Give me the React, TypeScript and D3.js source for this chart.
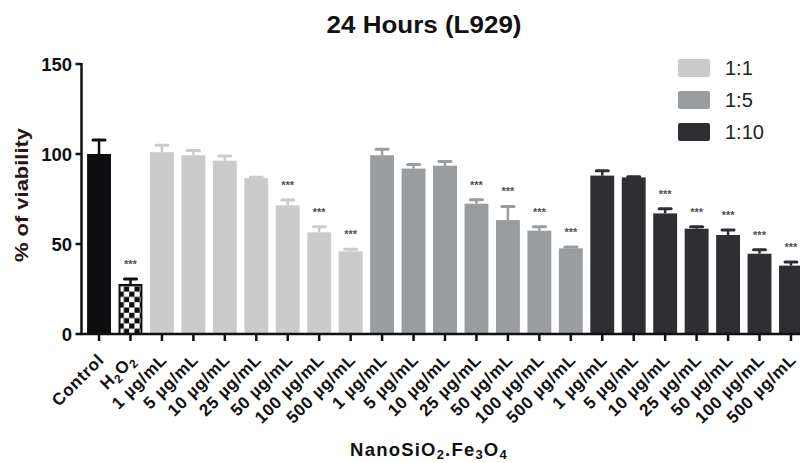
import React from "react";
import * as d3 from "d3";

const categories = [
  "Control", "H2O2",
  "1:1|1", "1:1|5", "1:1|10", "1:1|25", "1:1|50", "1:1|100", "1:1|500",
  "1:5|1", "1:5|5", "1:5|10", "1:5|25", "1:5|50", "1:5|100", "1:5|500",
  "1:10|1", "1:10|5", "1:10|10", "1:10|25", "1:10|50", "1:10|100", "1:10|500",
];
const tickLabels = [
  "Control", "H2O2",
  "1 µg/mL", "5 µg/mL", "10 µg/mL", "25 µg/mL", "50 µg/mL", "100 µg/mL", "500 µg/mL",
  "1 µg/mL", "5 µg/mL", "10 µg/mL", "25 µg/mL", "50 µg/mL", "100 µg/mL", "500 µg/mL",
  "1 µg/mL", "5 µg/mL", "10 µg/mL", "25 µg/mL", "50 µg/mL", "100 µg/mL", "500 µg/mL",
];
const groups = [
  "control", "h2o2",
  "1:1", "1:1", "1:1", "1:1", "1:1", "1:1", "1:1",
  "1:5", "1:5", "1:5", "1:5", "1:5", "1:5", "1:5",
  "1:10", "1:10", "1:10", "1:10", "1:10", "1:10", "1:10",
];
const values = [
  100, 27.8,
  101, 99.3, 96.3, 86.6, 71.5, 56.5, 45.9,
  99.3, 91.9, 93.5, 72.4, 63.3, 57.4, 47.6,
  88, 87, 67, 58.5, 55, 44.6, 38,
];
const errors = [
  7.8, 2.7,
  3.8, 2.6, 2.6, 0.5, 2.9, 3.1, 1.2,
  3.3, 2.2, 2.4, 2.2, 7.6, 2.2, 0.7,
  2.7, 0.4, 2.6, 1.1, 2.8, 2.2, 2,
];
const significant = [
  false, true,
  false, false, false, false, true, true, true,
  false, false, false, true, true, true, true,
  false, false, true, true, true, true, true,
];
const legendLabels = ["1:1", "1:5", "1:10"];
const yTicks = [0, 50, 100, 150];

const colors: Record<string, string> = {
  control: "#0e0e10",
  h2o2: "#0e0e10",
  "1:1": "#cbcbcb",
  "1:5": "#9a9da0",
  "1:10": "#2f2f33",
};

const FONT = "'Liberation Sans', Arial, Helvetica, sans-serif";

export default function App() {
  const W = 800, H = 463;
  const x = d3.scaleBand<string>().domain(categories).range([83.3, 806.7]).paddingInner(0.24).paddingOuter(0.12);
  const y = d3.scaleLinear().domain([0, 150]).range([334, 64]);
  const bw = x.bandwidth();
  const axisX = 81.5;

  const renderLabel = (lab: string) => {
    if (lab === "H2O2") {
      return (
        <>
          H<tspan fontSize={12} dy={4}>2</tspan><tspan dy={-4}>O</tspan><tspan fontSize={12} dy={4}>2</tspan>
        </>
      );
    }
    return lab;
  };

  return (
    <svg width={W} height={H} style={{ position: "absolute", left: 0, top: 0, display: "block", background: "#fff" }} fontFamily={FONT}>
      <defs>
        <pattern id="checker" patternUnits="userSpaceOnUse" width={10.6} height={10.6} x={x("H2O2")} y={y(0)}>
          <rect width={10.6} height={10.6} fill="#fff" />
          <rect width={5.3} height={5.3} fill="#0e0e10" />
          <rect x={5.3} y={5.3} width={5.3} height={5.3} fill="#0e0e10" />
        </pattern>
      </defs>
      <text x={424} y={33} textAnchor="middle" fontWeight="bold" fontSize={24} fill="#111" textLength={195} lengthAdjust="spacingAndGlyphs">24 Hours (L929)</text>

      {/* bars */}
      {categories.map((c, i) => {
        const g = groups[i];
        const col = colors[g];
        const x0 = x(c)!;
        const cx = x0 + bw / 2;
        const top = y(values[i]);
        const cap = y(values[i] + errors[i]);
        return (
          <g key={c}>
            {g === "h2o2" ? (
              <rect x={x0 + 1} y={top + 1} width={bw - 2} height={y(0) - top - 1} fill="url(#checker)" stroke="#0e0e10" strokeWidth={2} />
            ) : (
              <rect x={x0} y={top} width={bw} height={y(0) - top} fill={col} />
            )}
            <line x1={cx} x2={cx} y1={top} y2={cap} stroke={col} strokeWidth={2.5} />
            <line x1={cx - 6} x2={cx + 6} y1={cap} y2={cap} stroke={col} strokeWidth={3} strokeLinecap="round" />
            {significant[i] && (
              <text x={cx} y={cap - 11} textAnchor="middle" fontSize={11} fontWeight="bold" fill="#4a4f5c">***</text>
            )}
          </g>
        );
      })}

      {/* y axis */}
      <line x1={axisX} x2={axisX} y1={y(150) - 1} y2={y(0) + 1} stroke="#111" strokeWidth={2.5} />
      {yTicks.map((t) => (
        <g key={t}>
          <line x1={axisX - 6} x2={axisX} y1={y(t)} y2={y(t)} stroke="#111" strokeWidth={2.5} />
          <text x={72} y={y(t)} dy="0.36em" textAnchor="end" fontWeight="bold" fontSize={18.5} fill="#111">{t}</text>
        </g>
      ))}
      <text transform={`translate(28,195) rotate(-90)`} textAnchor="middle" fontWeight="bold" fontSize={19} fill="#2a1414" textLength={134} lengthAdjust="spacingAndGlyphs">% of viability</text>

      {/* x axis */}
      <line x1={axisX - 1} x2={W} y1={y(0)} y2={y(0)} stroke="#111" strokeWidth={2.5} />
      {categories.map((c, i) => {
        const cx = x(c)! + bw / 2;
        return (
          <g key={"t" + c}>
            <line x1={cx} x2={cx} y1={y(0)} y2={y(0) + 7} stroke="#111" strokeWidth={2.5} />
            <text transform={`translate(${cx + 6},${y(0) + 27}) rotate(-45)`} textAnchor="end" fontWeight="bold" fontSize={17} letterSpacing={0.7} fill="#111">
              {renderLabel(tickLabels[i])}
            </text>
          </g>
        );
      })}
      <text x={429} y={456} textAnchor="middle" fontWeight="bold" fontSize={18.5} fill="#111" letterSpacing={1.2}>
        NanoSiO<tspan fontSize={13} dy={3}>2</tspan><tspan dy={-3}>.Fe</tspan><tspan fontSize={13} dy={3}>3</tspan><tspan dy={-3}>O</tspan><tspan fontSize={13} dy={3}>4</tspan>
      </text>

      {/* legend */}
      {legendLabels.map((l, i) => (
        <g key={l} transform={`translate(678,${59 + i * 32})`}>
          <rect width={32} height={18} rx={2} fill={colors[l]} />
          <text x={47} y={16} fontSize={20} fill="#222">{l}</text>
        </g>
      ))}
    </svg>
  );
}
